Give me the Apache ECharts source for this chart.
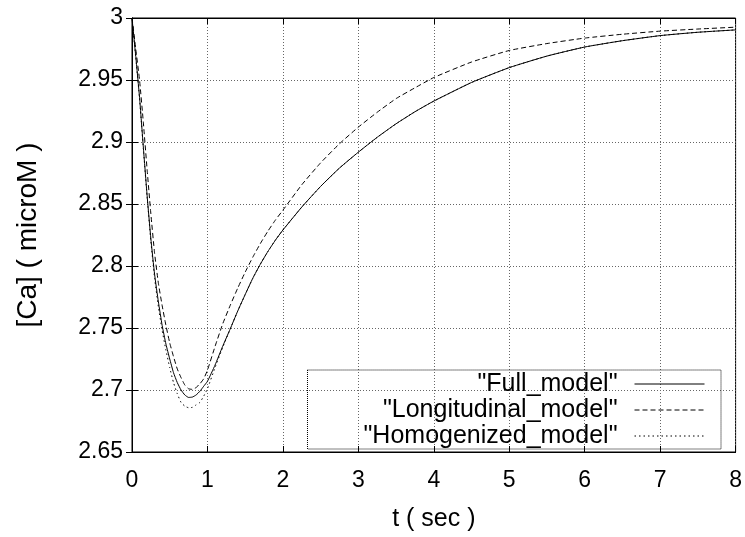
<!DOCTYPE html>
<html>
<head>
<meta charset="utf-8">
<script src="https://cdn.jsdelivr.net/npm/echarts@6/dist/echarts.min.js"></script>
<style>
html,body{margin:0;padding:0;background:#fff;}
#chart{width:745px;height:537px;}
</style>
</head>
<body>
<div id="chart"></div>
<script>
var timeSec = [0, 0.05, 0.1, 0.15, 0.2, 0.25, 0.3, 0.35, 0.4, 0.45, 0.5, 0.55, 0.6, 0.65, 0.7, 0.75, 0.8, 0.85, 0.9, 0.95, 1.0, 1.1, 1.2, 1.3, 1.4, 1.5, 1.6, 1.7, 1.8, 1.9, 2.0, 2.25, 2.5, 2.75, 3.0, 3.25, 3.5, 3.75, 4.0, 4.5, 5.0, 5.5, 6.0, 6.5, 7.0, 7.5, 8.0];
var fullModel = [3.0, 2.969, 2.936, 2.896, 2.857, 2.822, 2.793, 2.771, 2.752, 2.737, 2.725, 2.714, 2.706, 2.700, 2.696, 2.694, 2.6943, 2.696, 2.699, 2.703, 2.707, 2.720, 2.735, 2.749, 2.7635, 2.777, 2.790, 2.8014, 2.8116, 2.8208, 2.829, 2.8475, 2.8642, 2.879, 2.8918, 2.9038, 2.9147, 2.9244, 2.933, 2.948, 2.960, 2.9693, 2.9766, 2.9817, 2.9858, 2.9885, 2.9904];
var longitudinalModel = [3.0, 2.975, 2.950, 2.916, 2.878, 2.842, 2.810, 2.786, 2.768, 2.752, 2.738, 2.727, 2.717, 2.710, 2.704, 2.701, 2.7005, 2.702, 2.705, 2.709, 2.716, 2.735, 2.753, 2.768, 2.782, 2.795, 2.807, 2.818, 2.828, 2.837, 2.845, 2.8655, 2.8832, 2.8986, 2.912, 2.924, 2.935, 2.9437, 2.952, 2.9645, 2.9738, 2.9794, 2.9838, 2.9869, 2.9894, 2.9911, 2.9926];
var homogenizedModel = [3.0, 2.968, 2.935, 2.895, 2.856, 2.820, 2.790, 2.767, 2.748, 2.732, 2.718, 2.706, 2.697, 2.690, 2.687, 2.6857, 2.686, 2.688, 2.690, 2.695, 2.701, 2.718, 2.734, 2.749, 2.7635, 2.777, 2.790, 2.8014, 2.8116, 2.8208, 2.829, 2.8475, 2.8642, 2.879, 2.8918, 2.9038, 2.9147, 2.9244, 2.933, 2.948, 2.960, 2.9693, 2.9766, 2.9817, 2.9858, 2.9885, 2.9904];
var seriesNames = ['"Full_model"', '"Longitudinal_model"', '"Homogenized_model"'];

function pairs(vals){ return timeSec.map(function(t,i){ return [t, vals[i]]; }); }

var FONT = 'Liberation Sans, Arial, sans-serif';
var chart = echarts.init(document.getElementById('chart'), null, {renderer:'canvas'});
var gridLine = {show:true, lineStyle:{color:'#666', width:1, type:[1,2]}};
var option = {
  backgroundColor:'#fff',
  animation:false,
  grid:{left:132, top:18, right:9, bottom:82, show:true, borderColor:'#000', borderWidth:1, backgroundColor:'transparent'},
  xAxis:[{
    type:'value', min:0, max:8, interval:1,
    name:'t ( sec )', nameLocation:'middle', nameGap:55,
    nameTextStyle:{fontFamily:FONT, fontSize:25, color:'#000'},
    axisLine:{show:true, lineStyle:{color:'#000', width:1}},
    axisTick:{show:true, inside:true, length:6, lineStyle:{color:'#000'}},
    axisLabel:{fontFamily:FONT, fontSize:23, color:'#000', margin:17},
    splitLine:gridLine
  },{
    type:'value', min:0, max:8, interval:1, position:'top',
    axisLine:{show:true, lineStyle:{color:'#000'}},
    axisTick:{show:true, inside:true, length:6, lineStyle:{color:'#000'}},
    axisLabel:{show:false}, splitLine:{show:false}
  }],
  yAxis:[{
    type:'value', min:2.65, max:3, interval:0.05,
    name:'[Ca] ( microM )', nameLocation:'middle', nameGap:90, nameRotate:90,
    nameTextStyle:{fontFamily:FONT, fontSize:28, color:'#000'},
    axisLine:{show:true, lineStyle:{color:'#000', width:1}},
    axisTick:{show:true, inside:true, length:6, lineStyle:{color:'#000'}},
    axisLabel:{fontFamily:FONT, fontSize:23, color:'#000', margin:9,
      formatter:function(v){ return String(Math.round(v*100)/100); }},
    splitLine:gridLine
  },{
    type:'value', min:2.65, max:3, interval:0.05, position:'right',
    axisLine:{show:true, lineStyle:{color:'#000'}},
    axisTick:{show:true, inside:true, length:6, lineStyle:{color:'#000'}},
    axisLabel:{show:false}, splitLine:{show:false}
  }],
  legend:{
    orient:'vertical', right:24, top:370, align:'right',
    itemWidth:70, itemHeight:14, itemGap:0,
    padding:[1,16,0,56],
    borderColor:'#000', borderWidth:1, borderType:'dotted',
    itemStyle:{color:'rgba(0,0,0,0)', borderColor:'rgba(0,0,0,0)', borderWidth:0, opacity:0},
    lineStyle:{width:1},
    textStyle:{fontFamily:FONT, fontSize:25, color:'#000', padding:[0,12,0,0], lineHeight:26},
    data:seriesNames
  },
  series:[
    {name:seriesNames[0], type:'line', data:pairs(fullModel), symbol:'none', smooth:0.15,
     lineStyle:{color:'#000', width:1, type:'solid'}, itemStyle:{color:'#000'}},
    {name:seriesNames[1], type:'line', data:pairs(longitudinalModel), symbol:'none', smooth:0.15,
     lineStyle:{color:'#000', width:1, type:[5,3]}, itemStyle:{color:'#000'}},
    {name:seriesNames[2], type:'line', data:pairs(homogenizedModel), symbol:'none', smooth:0.15,
     lineStyle:{color:'#000', width:1, type:[1.5,3]}, itemStyle:{color:'#000'}}
  ]
};
chart.setOption(option);
</script>
</body>
</html>
